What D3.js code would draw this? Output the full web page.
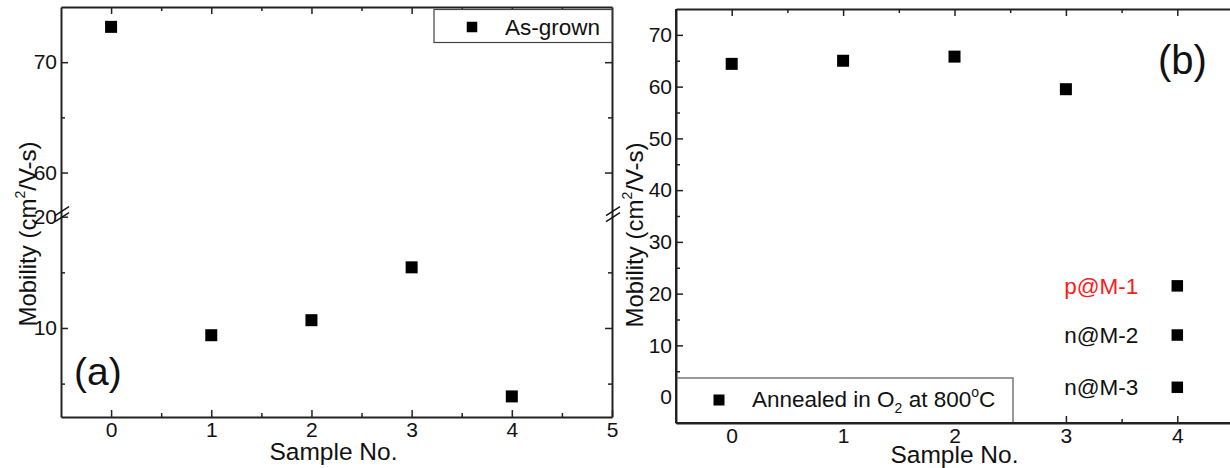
<!DOCTYPE html>
<html>
<head>
<meta charset="utf-8">
<script src="https://cdn.jsdelivr.net/npm/d3@7"></script>
<style>
  html, body { margin: 0; padding: 0; background: #fff; }
  svg { display: block; }
  text { font-family: "Liberation Sans", Arial, sans-serif; fill: #111; }
  .axis path, .axis line { stroke: #222; }
  .axis text { font-size: 21px; font-family: "Liberation Sans", Arial, sans-serif; fill: #111; }
</style>
</head>
<body>
<svg id="chart" width="1230" height="468"></svg>
<script>
// ---- data ----
const samplesA = [0, 1, 2, 3, 4];
const mobilityA = [73.2, 9.35, 10.7, 15.45, 3.85];      // as-grown, cm^2/V-s
const samplesB = [0, 1, 2, 3];
const mobilityB = [64.4, 65.0, 65.8, 59.5];             // annealed in O2 at 800 C
const sampleNoteX = 4;
const sampleNoteValues = [21.5, 12.0, 1.9];
const sampleNoteLabels = ["p@M-1", "n@M-2", "n@M-3"];
const sampleNoteColors = ["#ff1a1a", "#111", "#111"];

const xTicksA = [0, 1, 2, 3, 4, 5];
const xTicksB = [0, 1, 2, 3, 4];
const yTicksLowA = [10, 20];
const yTicksHighA = [60, 70];
const yTicksB = [0, 10, 20, 30, 40, 50, 60, 70];

const svg = d3.select("#chart");
const TICK = 7, MINOR = 4, MS = 12;

function sq(g, cx, cy, s) {
  g.append("rect").attr("x", cx - s / 2).attr("y", cy - s / 2)
    .attr("width", s).attr("height", s).attr("fill", "#000");
}
function styleAxis(g) {
  g.attr("class", "axis");
  g.selectAll("path").attr("stroke-width", 2);
  g.selectAll("line").attr("stroke-width", 1.5);
}
function breakMarks(g, x, y) {
  [0, 6].forEach(o => {
    g.append("line")
      .attr("x1", x - 6).attr("y1", y + 1 + o)
      .attr("x2", x + 8).attr("y2", y - 8 + o)
      .attr("stroke", "#111").attr("stroke-width", 1.4);
  });
}

// ================= panel (a): broken y axis =================
const A = { left: 61, right: 612, top: 7, bottom: 417, brk: 216.7 };
const xA = d3.scaleLinear().domain([-0.5, 5]).range([A.left, A.right]);
const yLow = d3.scaleLinear().domain([2, 20]).range([A.bottom, A.brk]);
const yHigh = d3.scaleLinear().domain([56, 75]).range([A.brk, A.top]);
const yA = v => (v >= 56 ? yHigh(v) : yLow(v));

const gA = svg.append("g");

// bottom / top
gA.append("g").attr("transform", `translate(0,${A.bottom})`)
  .call(d3.axisBottom(xA).tickValues(xTicksA).tickSize(-TICK).tickSizeOuter(0).tickPadding(5).tickFormat(d3.format("d")))
  .call(styleAxis).call(g => g.selectAll("text").attr("dy", "0.71em"));
gA.append("g").attr("transform", `translate(0,${A.bottom})`)
  .call(d3.axisBottom(xA).tickValues([0.5, 1.5, 2.5, 3.5, 4.5]).tickSize(-MINOR).tickFormat(""))
  .call(styleAxis).call(g => g.select("path").remove());
gA.append("g").attr("transform", `translate(0,${A.top})`)
  .call(d3.axisTop(xA).tickValues(xTicksA.filter(v => v < 5)).tickSize(-TICK).tickSizeOuter(0).tickFormat(""))
  .call(styleAxis);
gA.append("g").attr("transform", `translate(0,${A.top})`)
  .call(d3.axisTop(xA).tickValues([0.5, 1.5, 2.5, 3.5, 4.5]).tickSize(-MINOR).tickFormat(""))
  .call(styleAxis).call(g => g.select("path").remove());

// left / right, lower and upper segments
[[d3.axisLeft, A.left, true], [d3.axisRight, A.right, false]].forEach(([ax, x, labels]) => {
  gA.append("g").attr("transform", `translate(${x},0)`)
    .call(ax(yLow).tickValues(yTicksLowA.filter(v => v < 20 || labels)).tickSize(-TICK).tickSizeOuter(0).tickPadding(4)
      .tickFormat(labels ? d3.format("d") : ""))
    .call(styleAxis);
  gA.append("g").attr("transform", `translate(${x},0)`)
    .call(ax(yLow).tickValues([5, 15]).tickSize(-MINOR).tickFormat(""))
    .call(styleAxis).call(g => g.select("path").remove());
  gA.append("g").attr("transform", `translate(${x},0)`)
    .call(ax(yHigh).tickValues(yTicksHighA).tickSize(-TICK).tickSizeOuter(0).tickPadding(4)
      .tickFormat(labels ? d3.format("d") : ""))
    .call(styleAxis);
  gA.append("g").attr("transform", `translate(${x},0)`)
    .call(ax(yHigh).tickValues([65]).tickSize(-MINOR).tickFormat(""))
    .call(styleAxis).call(g => g.select("path").remove());
  breakMarks(gA, x, A.brk - 2);
});

// points
samplesA.forEach((s, i) => sq(gA, xA(s), yA(mobilityA[i]), MS));

// legend
const legA = gA.append("g");
legA.append("rect").attr("x", 434).attr("y", 9.5).attr("width", A.right - 434).attr("height", 33)
  .attr("fill", "#fff").attr("stroke", "#444").attr("stroke-width", 1.2);
sq(legA, 472, 27, 10.5);
legA.append("text").attr("x", 505).attr("y", 35).attr("font-size", 22.5).text("As-grown");

// titles
gA.append("text").attr("x", (A.left + A.right) / 2 - 3).attr("y", 460).attr("text-anchor", "middle")
  .attr("font-size", 24.5).text("Sample No.");
const ytA = gA.append("text").attr("transform", `translate(36,234) rotate(-90)`)
  .attr("text-anchor", "middle").attr("font-size", 24);
ytA.append("tspan").text("Mobility (cm");
ytA.append("tspan").attr("font-size", 14).attr("dy", -11).text("2");
ytA.append("tspan").attr("dy", 11).text("/V-s)");

gA.append("text").attr("x", 74).attr("y", 385).attr("font-family", "Lato, 'Open Sans', sans-serif")
  .attr("font-size", 39).text("(a)");

// ================= panel (b) =================
const B = { left: 676, right: 1233, top: 9, bottom: 423 };
const xB = d3.scaleLinear().domain([-0.5, 4.5]).range([B.left, B.right]);
const yB = d3.scaleLinear().domain([-5, 75]).range([B.bottom, B.top]);
const gB = svg.append("g");

gB.append("g").attr("transform", `translate(0,${B.bottom})`)
  .call(d3.axisBottom(xB).tickValues(xTicksB).tickSize(-TICK).tickSizeOuter(0).tickPadding(5).tickFormat(d3.format("d")))
  .call(styleAxis).call(g => g.selectAll("text").attr("dy", "0.71em"));
gB.append("g").attr("transform", `translate(0,${B.bottom})`)
  .call(d3.axisBottom(xB).tickValues([0.5, 1.5, 2.5, 3.5]).tickSize(-MINOR).tickFormat(""))
  .call(styleAxis).call(g => g.select("path").remove());
gB.append("g").attr("transform", `translate(0,${B.top})`)
  .call(d3.axisTop(xB).tickValues(xTicksB).tickSize(-TICK).tickSizeOuter(0).tickFormat(""))
  .call(styleAxis);
gB.append("g").attr("transform", `translate(0,${B.top})`)
  .call(d3.axisTop(xB).tickValues([0.5, 1.5, 2.5, 3.5]).tickSize(-MINOR).tickFormat(""))
  .call(styleAxis).call(g => g.select("path").remove());
gB.append("g").attr("transform", `translate(${B.left},0)`)
  .call(d3.axisLeft(yB).tickValues(yTicksB).tickSize(-TICK).tickSizeOuter(0).tickPadding(4).tickFormat(d3.format("d")))
  .call(styleAxis);
gB.append("g").attr("transform", `translate(${B.left},0)`)
  .call(d3.axisLeft(yB).tickValues(d3.range(5, 75, 10)).tickSize(-MINOR).tickFormat(""))
  .call(styleAxis).call(g => g.select("path").remove());

samplesB.forEach((s, i) => sq(gB, xB(s), yB(mobilityB[i]), MS));

sampleNoteValues.forEach((v, i) => {
  sq(gB, xB(sampleNoteX), yB(v), 11.5);
  gB.append("text").attr("x", xB(sampleNoteX) - 39).attr("y", yB(v) + 8)
    .attr("text-anchor", "end").attr("font-size", 22.5)
    .style("fill", sampleNoteColors[i]).text(sampleNoteLabels[i]);
});

// legend
const legB = gB.append("g");
legB.append("rect").attr("x", B.left + 1).attr("y", 378).attr("width", 1013 - B.left - 1).attr("height", B.bottom - 378)
  .attr("fill", "#fff").attr("stroke", "#777").attr("stroke-width", 1.5);
sq(legB, 719, 400, 11);
const lt = legB.append("text").attr("x", 752).attr("y", 407).attr("font-size", 22.5);
lt.append("tspan").text("Annealed in O");
lt.append("tspan").attr("font-size", 14).attr("dy", 6).text("2");
lt.append("tspan").attr("dy", -6).text(" at 800");
lt.append("tspan").attr("font-size", 14).attr("dy", -10).text("o");
lt.append("tspan").attr("dy", 10).text("C");
// frame edges drawn over the legend box
gB.append("line").attr("x1", B.left).attr("x2", B.left).attr("y1", B.top).attr("y2", B.bottom)
  .attr("stroke", "#222").attr("stroke-width", 2);
gB.append("line").attr("x1", B.left).attr("x2", B.right).attr("y1", B.bottom).attr("y2", B.bottom)
  .attr("stroke", "#222").attr("stroke-width", 2);

gB.append("text").attr("x", xB(2)).attr("y", 463).attr("text-anchor", "middle")
  .attr("font-size", 24.5).text("Sample No.");
const ytB = gB.append("text").attr("transform", `translate(643,235) rotate(-90)`)
  .attr("text-anchor", "middle").attr("font-size", 24);
ytB.append("tspan").text("Mobility (cm");
ytB.append("tspan").attr("font-size", 14).attr("dy", -11).text("2");
ytB.append("tspan").attr("dy", 11).text("/V-s)");

gB.append("text").attr("x", 1158).attr("y", 74).attr("font-family", "Lato, 'Open Sans', sans-serif")
  .attr("font-size", 40).text("(b)");
</script>
</body>
</html>
